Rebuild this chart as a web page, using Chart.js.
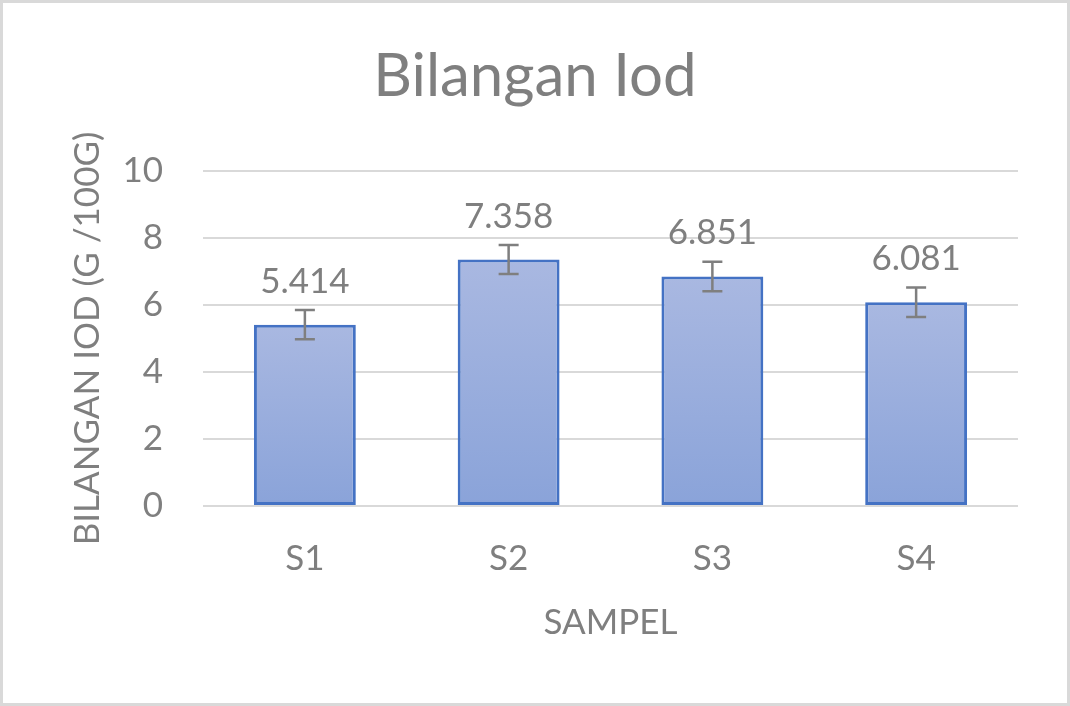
<!DOCTYPE html>
<html>
<head>
<meta charset="utf-8">
<script src="https://cdn.jsdelivr.net/npm/chart.js@4/dist/chart.umd.min.js"></script>
<style>
  html, body { margin: 0; padding: 0; background: #fff; }
  #wrap { width: 1070px; height: 706px; position: relative; }
</style>
</head>
<body>
<div id="wrap"><canvas id="iodChart" width="1070" height="706"></canvas></div>
<script>
// data
const categories = ['S1', 'S2', 'S3', 'S4'];
const iodValues = [5.414, 7.358, 6.851, 6.081];
const iodErrors = [0.44, 0.43, 0.44, 0.44];
const yTicks = [0, 2, 4, 6, 8, 10];

const grey = '#7f7f7f';
Chart.defaults.font.family = 'Lato, "Open Sans", sans-serif';
Chart.defaults.color = grey;

// per-bar vertical gradient like the Excel fill
function barFill(context) {
  const chart = context.chart;
  if (!chart.chartArea) return '#99addd';
  const y = chart.scales.y;
  const top = y.getPixelForValue(context.raw);
  const bottom = y.getPixelForValue(0);
  const g = chart.ctx.createLinearGradient(0, top, 0, bottom);
  g.addColorStop(0, '#a9b8e1');
  g.addColorStop(1, '#8aa3d9');
  return g;
}

// error bars + value labels drawn from the scales
const extrasPlugin = {
  id: 'extras',
  afterDatasetsDraw(chart) {
    const ctx = chart.ctx;
    const y = chart.scales.y;
    const meta = chart.getDatasetMeta(0);
    ctx.save();
    meta.data.forEach((bar, i) => {
      const x = bar.x;
      const hi = y.getPixelForValue(iodValues[i] + iodErrors[i]);
      const lo = y.getPixelForValue(iodValues[i] - iodErrors[i]);
      ctx.strokeStyle = grey;
      ctx.lineWidth = 2.5;
      ctx.beginPath();
      ctx.moveTo(x, hi); ctx.lineTo(x, lo);
      ctx.moveTo(x - 10, hi); ctx.lineTo(x + 10, hi);
      ctx.moveTo(x - 10, lo); ctx.lineTo(x + 10, lo);
      ctx.stroke();

      ctx.fillStyle = grey;
      ctx.font = '35px Lato';
      ctx.textAlign = 'center';
      ctx.textBaseline = 'alphabetic';
      ctx.fillText(iodValues[i].toFixed(3), x, bar.y - 32);
    });
    ctx.restore();
  },
  afterDraw(chart) {
    const ctx = chart.ctx;
    ctx.save();
    ctx.strokeStyle = '#d9d9d9';
    ctx.lineWidth = 3;
    ctx.strokeRect(1.5, 1.5, chart.width - 3, chart.height - 3);
    ctx.restore();
  }
};

new Chart(document.getElementById('iodChart'), {
  type: 'bar',
  data: {
    labels: categories,
    datasets: [{
      data: iodValues,
      backgroundColor: barFill,
      borderColor: '#4472c4',
      borderWidth: 3,
      borderSkipped: false,
      categoryPercentage: 1,
      barPercentage: 0.5
    }]
  },
  options: {
    responsive: false,
    animation: false,
    events: [],
    layout: { padding: 0 },
    plugins: {
      legend: { display: false },
      tooltip: { enabled: false },
      title: {
        display: true,
        text: 'Bilangan Iod',
        color: grey,
        font: { size: 60, weight: 'normal' },
        padding: { top: 41, bottom: 58 }
      }
    },
    scales: {
      x: {
        grid: { display: false, drawTicks: false },
        border: { display: false },
        ticks: { color: grey, font: { size: 35 }, padding: 32 },
        title: {
          display: true,
          text: 'SAMPEL',
          color: grey,
          font: { size: 35 },
          padding: { top: 0, bottom: 62 }
        },
        afterFit: (scale) => { scale.height = 200; }
      },
      y: {
        min: 0,
        max: 10,
        afterBuildTicks: (scale) => { scale.ticks = yTicks.map(v => ({ value: v })); },
        grid: { color: '#d9d9d9', lineWidth: 2, drawTicks: false },
        border: { display: false },
        ticks: { color: grey, font: { size: 35 }, padding: 40 },
        title: {
          display: true,
          text: 'BILANGAN IOD (G /100G)',
          color: grey,
          font: { size: 35 },
          padding: { top: 67, bottom: 0 }
        },
        afterFit: (scale) => { scale.width = 203; }
      },
      // empty right-hand margin so the title stays centred on the whole canvas
      yRight: {
        type: 'linear',
        position: 'right',
        grid: { display: false, drawTicks: false },
        border: { display: false },
        ticks: { display: false },
        afterFit: (scale) => { scale.width = 52; }
      }
    }
  },
  plugins: [extrasPlugin]
});
</script>
</body>
</html>
